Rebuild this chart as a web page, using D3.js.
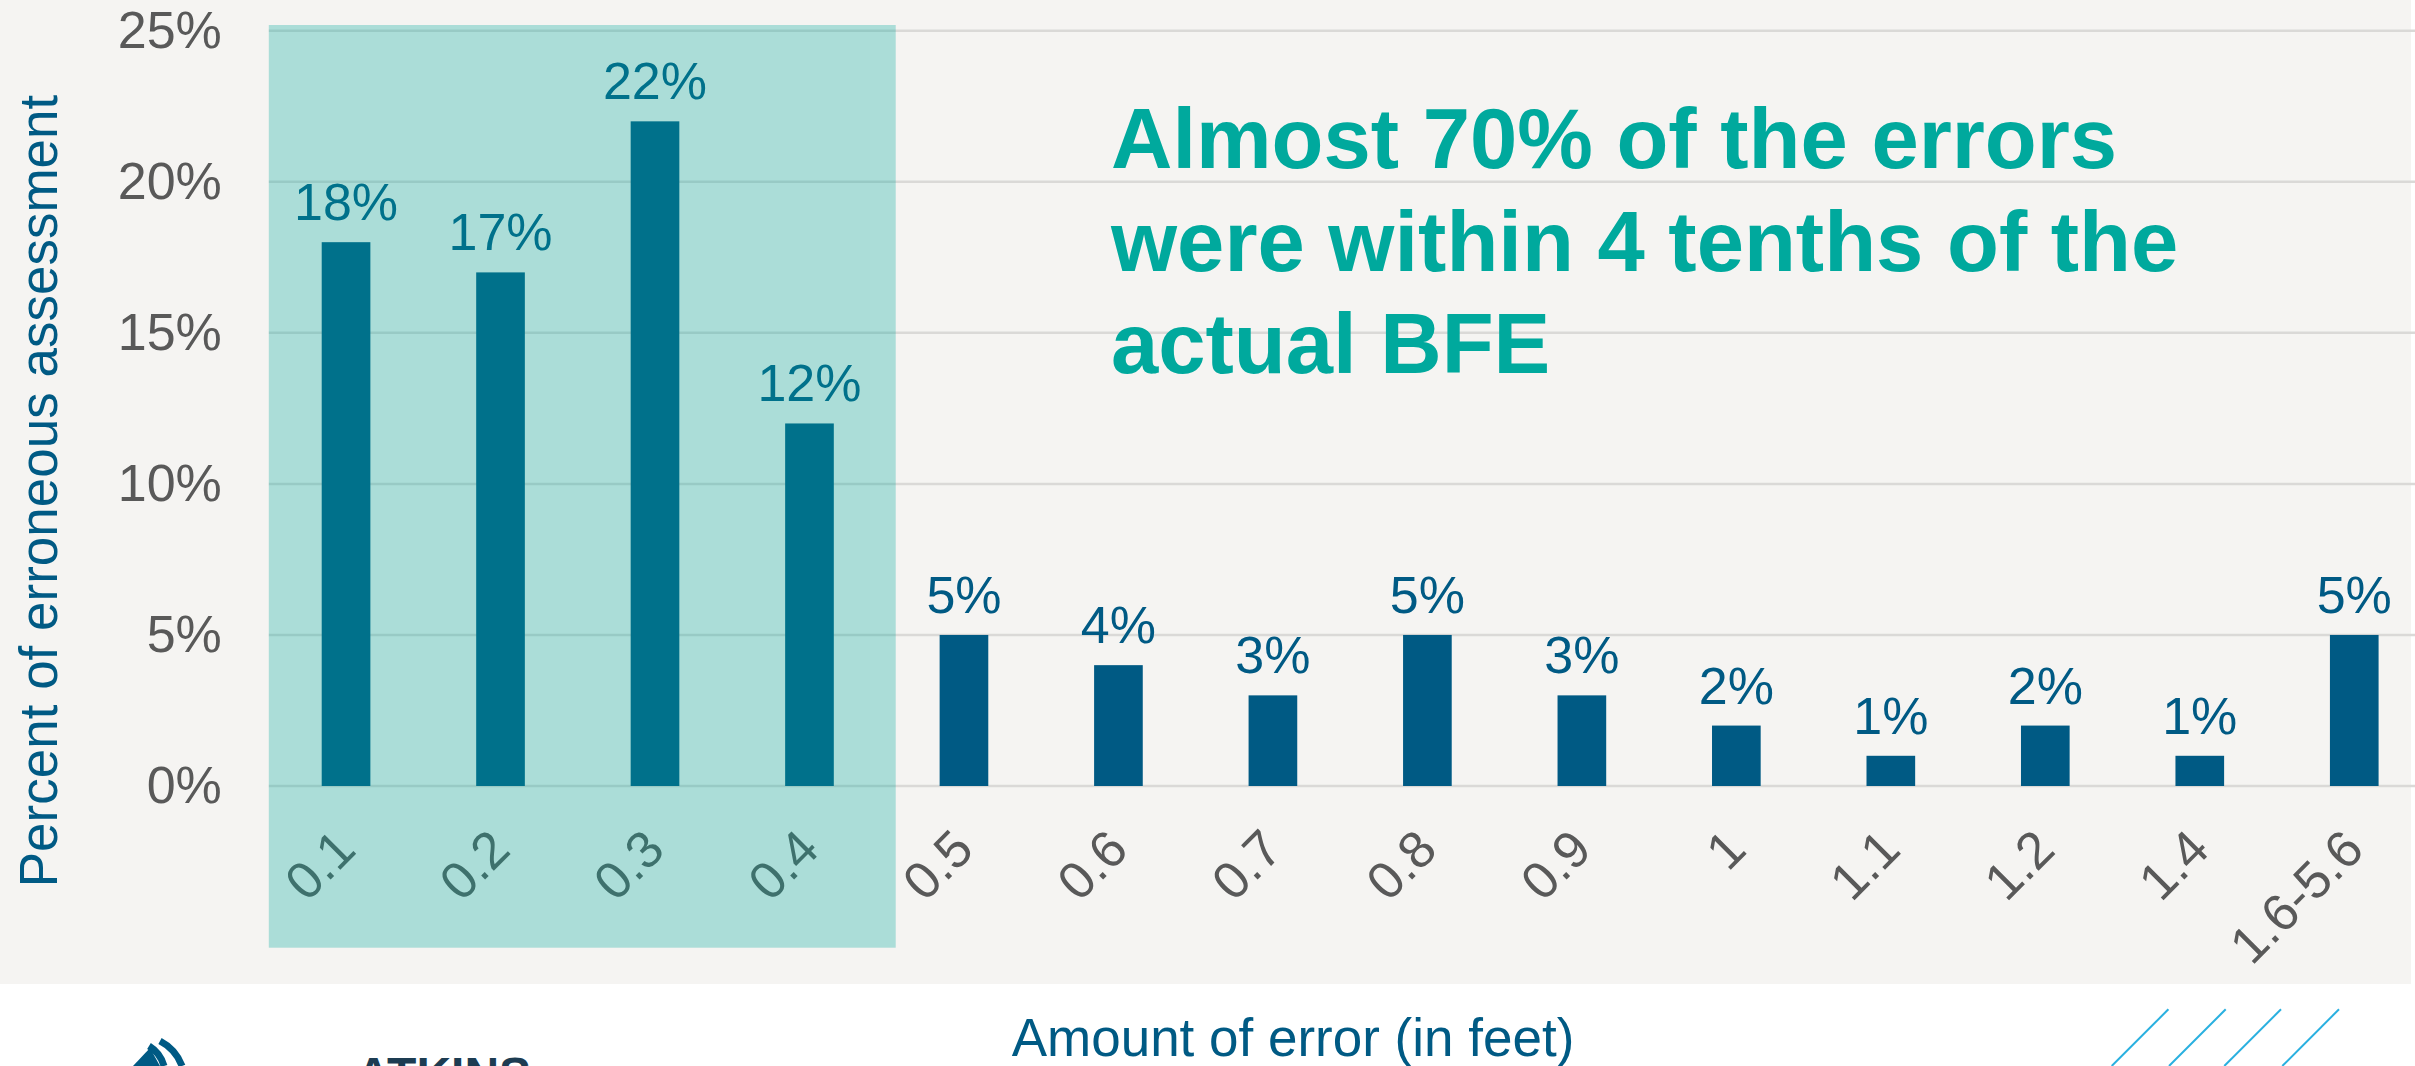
<!DOCTYPE html>
<html>

<head>
    <meta charset="utf-8">

    <!-- Load d3.js -->
    <script src="https://cdn.jsdelivr.net/npm/d3@7/dist/d3.min.js"></script>
    <style>
        body { margin: 0; background: #ffffff; }
        text { font-family: "Liberation Sans", Arial, sans-serif; }
    </style>
</head>

<body>
    <!-- Create a div where the graph will take place -->
    <div id="my_dataviz"></div>
    <script>

        // data
        var categories = ["0.1", "0.2", "0.3", "0.4", "0.5", "0.6", "0.7", "0.8", "0.9", "1", "1.1", "1.2", "1.4", "1.6-5.6"]
        var percents = [18, 17, 22, 12, 5, 4, 3, 5, 3, 2, 1, 2, 1, 5]
        var yTicks = [0, 5, 10, 15, 20, 25]
        var highlighted = ["0.1", "0.2", "0.3", "0.4"]
        var noteLines = ["Almost 70% of the errors", "were within 4 tenths of the", "actual BFE"]

        var data = categories.map(function (c, i) { return { cat: c, value: percents[i] } })

        // dimensions of the page
        var W = 2415, H = 1066
        var plotLeft = 268.8, plotRight = 2431.5, plotTop = 30.7, plotBottom = 786

        var svg = d3.select("#my_dataviz")
            .append("svg")
            .attr("width", W)
            .attr("height", H)

        // grey panel behind the chart
        svg.append("rect")
            .attr("x", 0).attr("y", 0)
            .attr("width", 2411).attr("height", 984)
            .attr("fill", "#f5f4f2")

        // X scale: one band per category, bar sits in the middle
        var x = d3.scaleBand()
            .domain(categories)
            .range([plotLeft, plotRight])
            .paddingInner(0.685)
            .paddingOuter(0.3425)

        // Y scale
        var y = d3.scaleLinear()
            .domain([0, 25])
            .range([plotBottom, plotTop])

        // gridlines
        svg.append("g")
            .selectAll("line")
            .data(yTicks)
            .enter().append("line")
            .attr("x1", plotLeft)
            .attr("x2", W)
            .attr("y1", function (d) { return y(d) })
            .attr("y2", function (d) { return y(d) })
            .attr("stroke", "#dad9d7")
            .attr("stroke-width", 2.5)

        // Y axis labels
        svg.append("g")
            .attr("transform", "translate(" + plotLeft + ",0)")
            .call(d3.axisLeft(y).tickValues(yTicks).tickSize(0).tickPadding(47).tickFormat(function (d) { return d + "%" }))
            .call(function (g) { g.select(".domain").remove() })
            .selectAll("text")
            .style("font-size", "52px")
            .attr("fill", "#595959")

        // X axis labels, rotated
        svg.append("g")
            .attr("transform", "translate(0," + plotBottom + ")")
            .call(d3.axisBottom(x).tickSize(0))
            .call(function (g) { g.select(".domain").remove() })
            .selectAll("text")
            .attr("x", 0)
            .attr("y", 0)
            .attr("dy", null)
            .attr("transform", "translate(12,66)rotate(-45)")
            .style("text-anchor", "end")
            .style("font-size", "52px")
            .attr("fill", "#595959")

        // bars
        svg.append("g")
            .selectAll("rect")
            .data(data)
            .enter().append("rect")
            .attr("x", function (d) { return x(d.cat) })
            .attr("y", function (d) { return y(d.value) })
            .attr("width", x.bandwidth())
            .attr("height", function (d) { return y(0) - y(d.value) })
            .attr("fill", "#005a84")

        // value labels
        svg.append("g")
            .selectAll("text")
            .data(data)
            .enter().append("text")
            .attr("x", function (d) { return x(d.cat) + x.bandwidth() / 2 })
            .attr("y", function (d) { return y(d.value) - 22 })
            .attr("text-anchor", "middle")
            .style("font-size", "52px")
            .attr("fill", "#005a84")
            .text(function (d) { return d.value + "%" })

        // axis titles
        svg.append("text")
            .attr("transform", "translate(57,491)rotate(-90)")
            .attr("text-anchor", "middle")
            .style("font-size", "53px")
            .attr("fill", "#005a84")
            .text("Percent of erroneous assessment")

        svg.append("text")
            .attr("x", 1293)
            .attr("y", 1056)
            .attr("text-anchor", "middle")
            .style("font-size", "53px")
            .attr("fill", "#005a84")
            .text("Amount of error (in feet)")

        // annotation
        svg.append("g")
            .selectAll("text")
            .data(noteLines)
            .enter().append("text")
            .attr("x", 1111)
            .attr("y", function (d, i) { return 168 + i * 102.5 })
            .style("font-size", "85px")
            .style("font-weight", "bold")
            .attr("fill", "#00a99d")
            .text(function (d) { return d })

        // translucent teal box over the first four bands
        var step = x.step()
        var boxLeft = x(highlighted[0]) - x.paddingOuter() * step
        var boxRight = x(highlighted[highlighted.length - 1]) - x.paddingOuter() * step + step + 9
        svg.append("rect")
            .attr("x", boxLeft)
            .attr("y", 25)
            .attr("width", boxRight - boxLeft)
            .attr("height", 947.7 - 25)
            .attr("fill", "#00a99d")
            .attr("fill-opacity", 0.3)

        // footer decorations (cut off at the bottom of the slide)
        var footer = svg.append("g")
        footer.append("text")
            .attr("x", 356)
            .attr("y", 1091)
            .style("font-size", "48px")
            .style("font-weight", "bold")
            .attr("fill", "#1d3c52")
            .text("ATKINS")
        footer.append("path")
            .attr("d", "M133,1066 L150,1048 L160,1066 Z")
            .attr("fill", "#005a84")
        footer.append("path")
            .attr("d", "M149,1046 A34,34 0 0 1 164,1066")
            .attr("fill", "none").attr("stroke", "#005a84").attr("stroke-width", 7)
        footer.append("path")
            .attr("d", "M160,1041 A46,46 0 0 1 182,1066")
            .attr("fill", "none").attr("stroke", "#005a84").attr("stroke-width", 7)

        var slashes = [2111.7, 2169, 2224.3, 2282.3]
        footer.selectAll("line")
            .data(slashes)
            .enter().append("line")
            .attr("x1", function (d) { return d })
            .attr("y1", 1066)
            .attr("x2", function (d) { return d + 56.7 })
            .attr("y2", 1009.3)
            .attr("stroke", "#29b0e0")
            .attr("stroke-width", 2)

    </script>
</body>

</html>
